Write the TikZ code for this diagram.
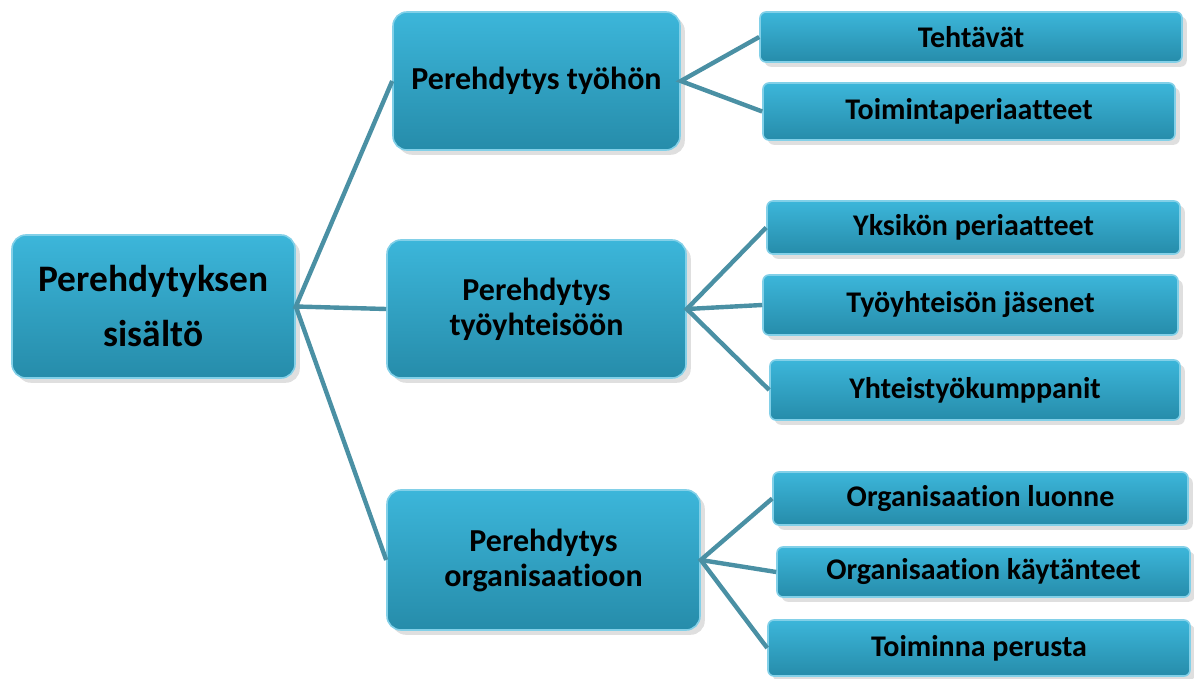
\documentclass[tikz,border=0pt]{standalone}
\usepackage{fontspec}
\setmainfont[Ligatures=NoCommon]{Carlito}
\usepackage{tikz}
\usetikzlibrary{shadows}

\definecolor{boxtop}{RGB}{60,182,218}
\definecolor{boxbot}{RGB}{38,140,170}
\definecolor{boxrim}{RGB}{130,208,232}
\definecolor{linkcol}{RGB}{74,144,164}

\tikzset{
  topic/.style={rectangle, rounded corners=7pt, draw=boxrim, line width=0.8pt,
    top color=boxtop, bottom color=boxbot, drop shadow={opacity=0.25},
    font=\bfseries\fontsize{16}{17.5}\selectfont, align=center, inner sep=0pt},
  leafbox/.style={topic, rounded corners=3pt, font=\bfseries\fontsize{15}{17.5}\selectfont},
  link/.style={draw=linkcol, line width=2.2pt}
}

\begin{document}
\begin{tikzpicture}[x=0.5pt,y=-0.5pt]
                \useasboundingbox (0,0) rectangle (1194,679);
                % main topic
                \node [topic, minimum width=141.5pt, minimum height=71.5pt,
                  font=\bfseries\fontsize{18.7}{27.5}\selectfont] (root) at (153.5,306.5) {Perehdytyksen\\sisältö};
                % sub topics
                \node [topic, minimum width=143.5pt, minimum height=69pt] (work) at (536.5,81) {Perehdytys työhön};
                \node [topic, minimum width=149.5pt, minimum height=69pt] (team) at (536.5,309) {Perehdytys\\työyhteisöön};
                \node [topic, minimum width=156.5pt, minimum height=70pt] (org) at (543.5,560) {Perehdytys\\organisaatioon};
                % items
                \node [leafbox, minimum width=211pt, minimum height=25pt] (tasks) at (971,37) {Tehtävät};
                \node [leafbox, minimum width=206pt, minimum height=28.5pt] (rules) at (969,111.5) {Toimintaperiaatteet};
                \node [leafbox, minimum width=206.5pt, minimum height=26.5pt] (unit) at (973.5,227.5) {Yksikön periaatteet};
                \node [leafbox, minimum width=207.5pt, minimum height=30pt] (members) at (970.5,305) {Työyhteisön jäsenet};
                \node [leafbox, minimum width=205pt, minimum height=30pt] (partners) at (975,390) {Yhteistyökumppanit};
                \node [leafbox, minimum width=207.5pt, minimum height=26.5pt] (nature) at (980.5,498.5) {Organisaation luonne};
                \node [leafbox, minimum width=206.5pt, minimum height=25pt] (practice) at (983.5,572) {Organisaation käytänteet};
                \node [leafbox, minimum width=211pt, minimum height=28pt] (basis) at (979,648) {Toiminna perusta};
                % connectors
                \draw [link] (work.west) -- (root.east) -- (team.west);
                \draw [link] (root.east) -- (org.west);
                \draw [link] (tasks.west) -- (work.east) -- (rules.west);
                \draw [link] (unit.west) -- (team.east) -- (partners.west);
                \draw [link] (team.east) -- (members.west);
                \draw [link] (nature.west) -- (org.east) -- (basis.west);
                \draw [link] (org.east) -- (practice.west);
            \end{tikzpicture}
\end{document}
